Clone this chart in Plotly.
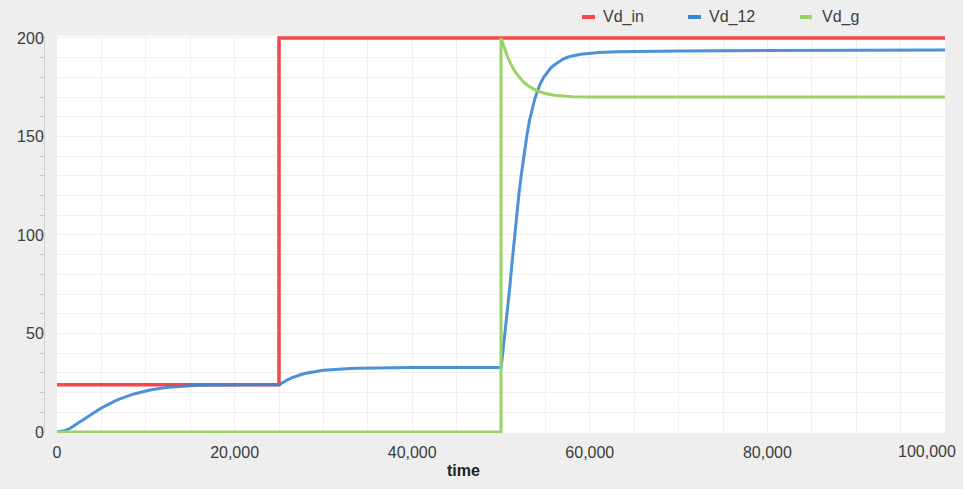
import plotly.graph_objects as go

# Time axis samples and the three voltage series
vd_in_t = [0, 25000, 25000, 100000]
vd_in_v = [24, 24, 200, 200]

vd_12_t = [0, 300, 800, 1500, 2000, 2500, 3000, 3500, 4000, 4500, 5000,
           5500, 6000, 6500, 7000, 7500, 8000, 8500, 9000, 9500, 10000,
           10500, 11000, 11500, 12000, 12500, 13000, 14000, 15000, 16000,
           17000, 18000, 20000, 22500, 25000,
           25300, 25600, 26000, 26500, 27000, 27500, 28000, 28500, 29000,
           29500, 30000, 31000, 32000, 33000, 34000, 36000, 38000, 40000,
           45000, 50000,
           50150, 50300, 50450, 50600, 50800, 51000, 51200, 51400, 51600,
           51800, 52000, 52300, 52600, 52900, 53200, 53500, 53800, 54100,
           54400, 54800, 55200, 55600, 56000, 56500, 57000, 57500, 58000,
           59000, 60000, 61000, 63000, 65000, 70000, 80000, 90000, 100000]
vd_12_v = [0, 0.1, 0.6, 1.9, 3.2, 4.9, 6.4, 8.0, 9.4, 10.8, 12.2,
           13.5, 14.7, 15.7, 16.7, 17.6, 18.4, 19.1, 19.7, 20.3, 20.8,
           21.3, 21.7, 22.1, 22.4, 22.7, 22.9, 23.3, 23.5, 23.7,
           23.8, 23.9, 24.0, 24.0, 24.0,
           24.9, 25.7, 26.6, 27.6, 28.5, 29.2, 29.8, 30.3, 30.7,
           31.0, 31.3, 31.7, 32.0, 32.2, 32.4, 32.6, 32.7, 32.8,
           32.8, 32.8,
           38, 44, 50, 56, 65, 74, 84, 94, 103,
           112, 120, 131, 141, 150, 158, 164, 169, 173,
           176.5, 180, 182.7, 184.7, 186.3, 188, 189.3, 190.2, 190.9,
           191.7, 192.2, 192.6, 193.0, 193.2, 193.4, 193.6, 193.8, 193.9]

vd_g_t = [0, 50000, 50000, 50250, 50500, 50750, 51000, 51500, 52000, 52500,
          53000, 53500, 54000, 54500, 55000, 56000, 57000, 58000, 60000, 100000]
vd_g_v = [0, 0, 200, 196.5, 193.3, 190.3, 187.7, 183.5, 180.4, 177.8,
          175.9, 174.5, 173.3, 172.5, 171.8, 170.9, 170.4, 170.2, 170.0, 170.0]

series_names = ["Vd_in", "Vd_12", "Vd_g"]
series_colors = ["#f5474a", "#3a86d4", "#9bd266"]

x_ticks = [0, 20000, 40000, 60000, 80000]
x_last = 100000
y_ticks = [0, 50, 100, 150, 200]

FONT = "Liberation Sans, Arial, sans-serif"
TEXT = "#3c3c3c"
GRID = "#f0f0f0"

fig = go.Figure()
fig.add_trace(go.Scatter(x=vd_in_t, y=vd_in_v, mode="lines", name=series_names[0],
                         line=dict(color=series_colors[0], width=3.5)))
fig.add_trace(go.Scatter(x=vd_12_t, y=vd_12_v, mode="lines", name=series_names[1],
                         line=dict(color=series_colors[1], width=3), opacity=0.9))
fig.add_trace(go.Scatter(x=vd_g_t, y=vd_g_v, mode="lines", name=series_names[2],
                         line=dict(color=series_colors[2], width=3)))

W, H = 963, 489
ml, mr, mt, mb = 44, 18, 36, 56
pw = W - ml - mr
ph = H - mt - mb


def px_x(px):
    return (px - ml) / pw


def px_y(py):
    return (H - mb - py) / ph


fig.update_layout(
    width=W, height=H,
    margin=dict(l=ml, r=mr, t=mt, b=mb, pad=0),
    paper_bgcolor="#eeeeee",
    plot_bgcolor="#ffffff",
    showlegend=False,
    font=dict(family=FONT, size=16, color=TEXT),
    xaxis=dict(
        domain=[13 / pw, 1],
        range=[0, 100000],
        tickvals=x_ticks,
        tickformat=",d",
        ticks="",
        showline=False,
        zeroline=False,
        showgrid=True, gridcolor=GRID, gridwidth=1,
        minor=dict(dtick=5000, tick0=0, showgrid=True, gridcolor=GRID, ticks=""),
        ticklabelstandoff=8,
    ),
    yaxis=dict(
        anchor="free", position=0,
        range=[-0.5, 201.0],
        tickvals=y_ticks,
        ticks="",
        showline=True, linecolor="#d2d2d2", linewidth=1,
        zeroline=False,
        showgrid=True, gridcolor=GRID, gridwidth=1,
        minor=dict(dtick=10, tick0=0, showgrid=True, gridcolor=GRID,
                   ticks="outside", ticklen=4, tickcolor="#c8c8c8"),
        ticklabelstandoff=-3,
    ),
)

# Last x tick label, pulled in so it stays inside the page
fig.add_annotation(x=x_last, y=px_y(451), xref="x", yref="paper",
                   text=f"{x_last:,d}", showarrow=False, xanchor="right", yanchor="middle",
                   xshift=13, font=dict(family=FONT, size=16, color=TEXT))

# Axis title
fig.add_annotation(x=px_x(463), y=px_y(470), xref="paper", yref="paper",
                   text="<b>time</b>", showarrow=False, xanchor="center", yanchor="middle",
                   font=dict(family=FONT, size=16, color="#222222"))

# Legend row along the top edge
legend_px = [(582, 595, 601), (688, 701, 707), (800, 812, 820)]
for name, color, (s0, s1, tx) in zip(series_names, series_colors, legend_px):
    fig.add_shape(type="line", xref="paper", yref="paper",
                  x0=px_x(s0), x1=px_x(s1), y0=px_y(17), y1=px_y(17),
                  line=dict(color=color, width=4))
    fig.add_annotation(x=px_x(tx), y=px_y(17), xref="paper", yref="paper",
                       text=name, showarrow=False, xanchor="left", yanchor="middle",
                       font=dict(family=FONT, size=16, color=TEXT))

fig.write_html("out.html")
